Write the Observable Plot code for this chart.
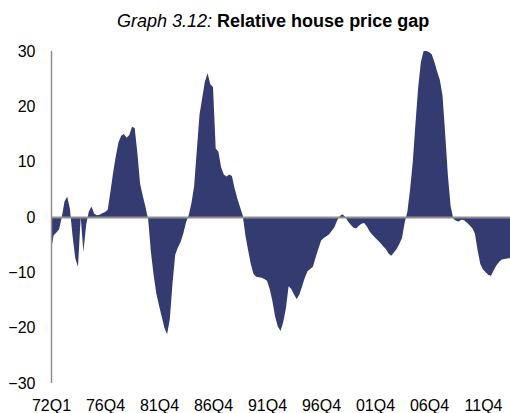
<!DOCTYPE html>
<html>
<head>
<meta charset="utf-8">
<script src="https://cdn.jsdelivr.net/npm/d3@7"></script>
<script src="https://cdn.jsdelivr.net/npm/@observablehq/plot@0.6"></script>
<style>
  html, body { margin: 0; padding: 0; background: #fff; }
  #wrap { position: relative; width: 510px; height: 413px; font-family: "Liberation Sans", Arial, sans-serif; }
  #title { position: absolute; left: 117px; top: 11px; font-size: 18px; white-space: nowrap; color: #000; }
  #chart { position: absolute; left: 0; top: 0; }
</style>
</head>
<body>
<div id="wrap">
  <div id="chart"></div>
  <div id="title"><i>Graph 3.12:</i> <b>Relative house price gap</b></div>
</div>
<script>
// Quarterly relative house price gap (%), one value per quarter starting 72Q1
const gap = [
  -6, -3.3, -2.8, -2.2, 0, 2.8, 3.7, 1.5, -3.5, -7.5,
  -9, 0, -6.3, -1.5, 1, 1.9, 0.6, 0.3, 0.4, 0.7,
  0.9, 1.3, 4.5, 8, 11, 13.5, 14.7, 15, 14.3, 14.8,
  16.3, 16.1, 11.5, 6, 3.8, 1.8, -0.5, -6.3, -10.5, -13.8,
  -16, -18, -20, -21.2, -18.5, -12, -6.8, -5.5, -4.5, -3,
  -1, 0.3, 2.5, 5.5, 12, 18.5, 21.5, 24.5, 26, 24,
  23.5, 12.4, 11.8, 9, 7.7, 7.3, 7.7, 7.4, 5.2, 3.4,
  1.8, 0.3, -3.3, -6, -8.5, -10.3, -10.8, -10.9, -11, -11.2,
  -11.5, -13, -15.2, -18, -19.8, -20.6, -19, -16.5, -12.5, -13,
  -14, -14.8, -14, -12.5, -11, -9.8, -9.4, -9, -7.3, -5.8,
  -4.3, -3.8, -3.5, -3.1, -2.5, -1.8, -0.6, 0.2, 0.5, 0,
  -0.8, -1.4, -1.9, -2.1, -1.6, -1.2, -1.1, -1.7, -2.6, -3.2,
  -3.7, -4.2, -4.7, -5.3, -5.8, -6.6, -7, -6.4, -5.8, -4.9,
  -3.8, -1, 1, 5, 10, 17, 23.5, 28, 30, 30,
  29.8, 29.4, 28, 26.3, 24.8, 22, 15, 7.5, 2, -0.3,
  -0.7, -0.8, -0.5, -0.6, -1, -1.5, -2, -3, -6, -8.5,
  -9.5, -10, -10.5, -10.6, -9.6, -8.7, -8.1, -7.7, -7.6, -7.5,
  -7.4
];
const tickLabels = ["72Q1", "76Q4", "81Q4", "86Q4", "91Q4", "96Q4", "01Q4", "06Q4", "11Q4"];
const labelStep = 20; // quarters between labels
const yTicks = [-30, -20, -10, 0, 10, 20, 30];

const data = gap.map((v, i) => ({i, v}));
const xTicks = tickLabels.map((_, k) => k * labelStep);

const fill = "#343b71";
const axisGray = "#8f8f8f";

const chart = Plot.plot({
  width: 510,
  height: 413,
  marginTop: 51,
  marginBottom: 30,
  marginLeft: 51,
  marginRight: 0,
  style: { fontFamily: "'Liberation Sans', Arial, sans-serif", fontSize: "16px", color: "#000", background: "#fff" },
  x: { domain: [0, gap.length - 1], axis: null },
  y: { domain: [-30, 30], axis: null },
  marks: [
    Plot.areaY(data, { x: "i", y: "v", fill: fill, curve: "linear" }),
    Plot.ruleY([0], { stroke: axisGray, strokeWidth: 2 }),
    Plot.ruleX([0], { y1: -30, y2: 30, stroke: axisGray, strokeWidth: 1.5 }),
    Plot.axisY(yTicks, { tickSize: 0, tickPadding: 16, fontSize: 16, fill: "#000", label: null }),
    Plot.axisX(xTicks, { tickSize: 0, tickPadding: 16, fontSize: 16, fill: "#000", label: null,
      tickFormat: d => tickLabels[d / labelStep] })
  ]
});
document.getElementById("chart").appendChild(chart);
</script>
</body>
</html>
